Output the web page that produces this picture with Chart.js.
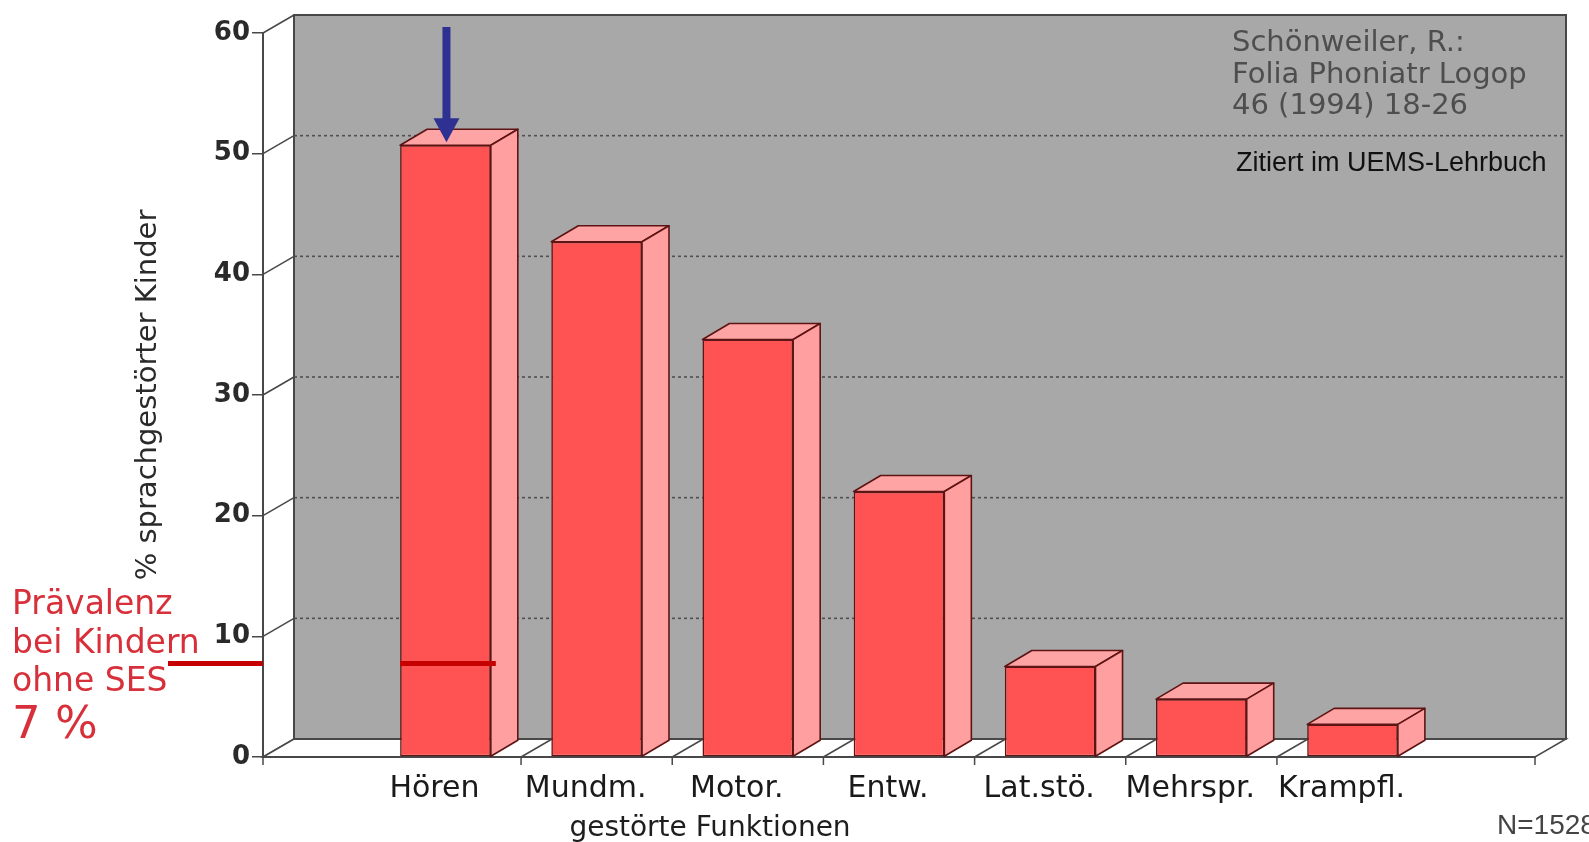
<!DOCTYPE html>
<html>
<head>
<meta charset="utf-8">
<script src="https://cdn.jsdelivr.net/npm/chart.js@4.4.0/dist/chart.umd.min.js"></script>
<style>
  html, body { margin: 0; padding: 0; background: #fff; }
  #wrap { width: 1589px; height: 842px; position: relative; }
</style>
</head>
<body>
<div id="wrap"><canvas id="c" width="1589" height="842"></canvas></div>
<script>
// Gestörte Funktionen bei sprachgestörten Kindern (Schönweiler 1994), N=1528
const categories = ['Hören', 'Mundm.', 'Motor.', 'Entw.', 'Lat.stö.', 'Mehrspr.', 'Krampfl.'];
const percentValues = [50.7, 42.7, 34.6, 22.0, 7.5, 4.8, 2.7];
const yTicks = [0, 10, 20, 30, 40, 50, 60];
const prevalenceNoSES = 7;            // Prävalenz bei Kindern ohne SES, in %
const prevalenceLines = ['Prävalenz', 'bei Kindern', 'ohne SES'];
const prevalenceLabel = '7 %';
const citationLines = ['Schönweiler, R.:', 'Folia Phoniatr Logop', '46 (1994) 18-26'];
const citedIn = 'Zitiert im UEMS-Lehrbuch';
const sampleSize = 'N=1528';

// oblique 3D look: offsets of the back plane and of the bar depth
const WALL = { dx: 31, dy: -18 };
const BAR = { dx: 27, dy: -16 };
const COLORS = {
  wall: '#a8a8a8', edge: '#484848', grid: '#505050',
  front: '#ff5252', top: '#ffa4a4', side: '#ff9f9f', barEdge: '#5e1414',
  red: '#c40000', redText: '#d7303a', arrow: '#2e3192'
};

function line(ctx, x1, y1, x2, y2) {
  ctx.beginPath(); ctx.moveTo(x1, y1); ctx.lineTo(x2, y2); ctx.stroke();
}
function poly(ctx, pts, fill, stroke, w) {
  ctx.beginPath();
  ctx.moveTo(pts[0][0], pts[0][1]);
  for (let i = 1; i < pts.length; i++) ctx.lineTo(pts[i][0], pts[i][1]);
  ctx.closePath();
  if (fill) { ctx.fillStyle = fill; ctx.fill(); }
  if (stroke) { ctx.strokeStyle = stroke; ctx.lineWidth = w || 1; ctx.stroke(); }
}

const depthPlugin = {
  id: 'depth3d',
  beforeDraw(chart) {
    const { ctx, chartArea: a, scales: { x, y } } = chart;
    const bl = a.left + WALL.dx, br = a.right + WALL.dx;
    const bt = a.top + WALL.dy, bb = a.bottom + WALL.dy;
    ctx.save();
    // back wall
    ctx.fillStyle = COLORS.wall;
    ctx.fillRect(bl, bt, br - bl, bb - bt);
    // dotted grid lines on the back wall
    ctx.strokeStyle = COLORS.grid; ctx.lineWidth = 1.6; ctx.setLineDash([3, 3]);
    yTicks.forEach(v => {
      if (v === yTicks[0] || v === yTicks[yTicks.length - 1]) return;
      const py = y.getPixelForValue(v) + WALL.dy;
      line(ctx, bl, py, br, py);
    });
    ctx.setLineDash([]);
    // side wall: diagonals from the axis ticks to the back wall
    ctx.strokeStyle = COLORS.edge; ctx.lineWidth = 1.5;
    yTicks.forEach(v => {
      const py = y.getPixelForValue(v);
      line(ctx, a.left, py, bl, py + WALL.dy);
    });
    // floor
    poly(ctx, [[a.left, a.bottom], [a.right, a.bottom], [br, bb], [bl, bb]], '#ffffff', COLORS.edge, 1.5);
    // back wall frame
    ctx.strokeStyle = COLORS.edge; ctx.lineWidth = 2;
    ctx.strokeRect(bl, bt, br - bl, bb - bt);
    // category dividers on the floor and tick marks under the front edge
    ctx.lineWidth = 1.5;
    for (let i = 0; i < categories.length - 1; i++) {
      const px = x.getPixelForValue(i + 0.5);
      line(ctx, px, a.bottom, px + WALL.dx, bb);
      line(ctx, px, a.bottom, px, a.bottom + 8);
    }
    line(ctx, a.left, a.bottom, a.left, a.bottom + 8);
    line(ctx, a.right, a.bottom, a.right, a.bottom + 8);
    ctx.restore();
  },
  afterDatasetsDraw(chart) {
    const { ctx } = chart;
    const meta = chart.getDatasetMeta(0);
    ctx.save();
    ctx.lineJoin = 'round';
    meta.data.forEach(bar => {
      const { x: cx, y: top, base, width } = bar.getProps(['x', 'y', 'base', 'width'], true);
      const l = cx - width / 2, r = cx + width / 2;
      poly(ctx, [[l, top], [r, top], [r + BAR.dx, top + BAR.dy], [l + BAR.dx, top + BAR.dy]], COLORS.top, COLORS.barEdge, 1.6);
      poly(ctx, [[r, top], [r + BAR.dx, top + BAR.dy], [r + BAR.dx, base + BAR.dy], [r, base]], COLORS.side, COLORS.barEdge, 1.6);
    });
    ctx.restore();
  },
  afterDraw(chart) {
    const { ctx, chartArea: a, scales: { y } } = chart;
    const first = chart.getDatasetMeta(0).data[0].getProps(['x', 'y', 'width'], true);
    ctx.save();
    // prevalence line (mid depth)
    const py = y.getPixelForValue(prevalenceNoSES) + WALL.dy / 2;
    ctx.strokeStyle = COLORS.red; ctx.lineWidth = 5;
    line(ctx, 168, py, a.left, py);
    line(ctx, first.x - first.width / 2, py, first.x + first.width / 2 + 5, py);
    // arrow onto the first bar
    const ax = first.x + 1, tip = first.y - 3, start = a.top - 6;
    ctx.fillStyle = COLORS.arrow;
    ctx.fillRect(ax - 4, start, 8, tip - 22 - start);
    poly(ctx, [[ax - 13, tip - 24], [ax + 13, tip - 24], [ax, tip]], COLORS.arrow);
    // prevalence label
    ctx.fillStyle = COLORS.redText;
    ctx.textBaseline = 'alphabetic'; ctx.textAlign = 'left';
    ctx.font = '33px "DejaVu Sans"';
    prevalenceLines.forEach((t, i) => ctx.fillText(t, 12, 614 + i * 38.5));
    ctx.font = '45px "DejaVu Sans"';
    ctx.fillText(prevalenceLabel, 12, 738);
    // source
    ctx.fillStyle = '#4e4e4e';
    ctx.font = '29px "DejaVu Sans"';
    citationLines.forEach((t, i) => ctx.fillText(t, 1232, 51 + i * 31.5));
    ctx.fillStyle = '#111';
    ctx.font = '27px "Liberation Sans"';
    ctx.fillText(citedIn, 1236, 171);
    // x axis title and sample size
    ctx.fillStyle = '#1e1e1e';
    ctx.font = '28px "DejaVu Sans"';
    ctx.textAlign = 'center';
    ctx.fillText('gestörte Funktionen', 710, 836);
    ctx.textAlign = 'left';
    ctx.fillStyle = '#444';
    ctx.font = '28px "Liberation Sans"';
    ctx.fillText(sampleSize, 1497, 834);
    ctx.restore();
  }
};

new Chart(document.getElementById('c'), {
  type: 'bar',
  data: {
    datasets: [{
      data: categories.map((c, i) => ({ x: i, y: percentValues[i] })),
      backgroundColor: COLORS.front,
      borderColor: COLORS.barEdge,
      borderWidth: 1.6,
      borderSkipped: false,
      barPercentage: 0.6,
      categoryPercentage: 1
    }]
  },
  options: {
    responsive: false,
    animation: false,
    devicePixelRatio: 1,
    layout: { padding: { left: 0, top: 33, right: 54, bottom: 0 } },
    plugins: { legend: { display: false }, tooltip: { enabled: false } },
    scales: {
      x: {
        type: 'linear', min: -1.207, max: 7.207, offset: false,
        afterBuildTicks: s => { s.ticks = categories.map((_, i) => ({ value: i })); },
        afterFit: s => { s.height = 85; },
        grid: { display: false, drawTicks: false, offset: false },
        border: { display: true, color: COLORS.edge, width: 2 },
        ticks: {
          autoSkip: false, maxRotation: 0, padding: 14, labelOffset: -11, color: '#1a1a1a',
          font: { family: 'DejaVu Sans', size: 30 },
          callback: v => categories[v] ?? ''
        }
      },
      y: {
        min: 0, max: 60,
        afterBuildTicks: s => { s.ticks = yTicks.map(v => ({ value: v })); },
        afterFit: s => { s.width = 263; },
        grid: { drawOnChartArea: false, drawTicks: true, tickLength: 11, color: COLORS.edge, lineWidth: 1.5 },
        border: { display: true, color: COLORS.edge, width: 2 },
        ticks: { padding: 2, color: '#2a2a2a', font: { family: 'DejaVu Sans', size: 26, weight: 'bold' } },
        title: {
          display: true, text: '% sprachgestörter Kinder', color: '#2a2a2a',
          font: { family: 'DejaVu Sans', size: 29 }, padding: { top: 131, bottom: 0 }
        }
      }
    }
  },
  plugins: [depthPlugin]
});
</script>
</body>
</html>
